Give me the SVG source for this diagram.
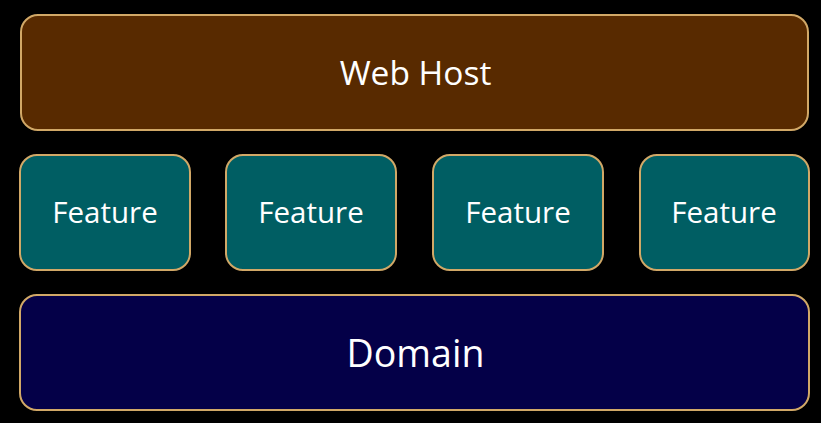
<svg xmlns="http://www.w3.org/2000/svg" width="821" height="423" viewBox="0 0 821 423">
<style>
.box{stroke:#D1A867;stroke-width:2}
.host{fill:#582A00}
.feat{fill:#005E63}
.dom{fill:#040048}
text{fill:#FFFFFF;font-family:"Open Sans","Noto Sans","Liberation Sans",sans-serif;text-anchor:middle}
.t1{font-size:33.5px}
.t2{font-size:29.5px}
.t3{font-size:37.5px}
</style>
<rect x="0" y="0" width="821" height="423" fill="#000000"/>
<g id="web-host">
<rect class="box host" x="21" y="15" width="787" height="115" rx="17"/>
<text class="t1" x="415.5" y="85">Web Host</text>
</g>
<g id="feature-1">
<rect class="box feat" x="20" y="155" width="170" height="115" rx="17"/>
<text class="t2" x="105" y="223.3">Feature</text>
</g>
<g id="feature-2">
<rect class="box feat" x="226" y="155" width="170" height="115" rx="17"/>
<text class="t2" x="311" y="223.3">Feature</text>
</g>
<g id="feature-3">
<rect class="box feat" x="433" y="155" width="170" height="115" rx="17"/>
<text class="t2" x="518" y="223.3">Feature</text>
</g>
<g id="feature-4">
<rect class="box feat" x="640" y="155" width="169" height="115" rx="17"/>
<text class="t2" x="724" y="223.3">Feature</text>
</g>
<g id="domain">
<rect class="box dom" x="20" y="295" width="789" height="115" rx="17"/>
<text class="t3" x="415.5" y="366.8">Domain</text>
</g>
<g id="connectors"></g>
</svg>
